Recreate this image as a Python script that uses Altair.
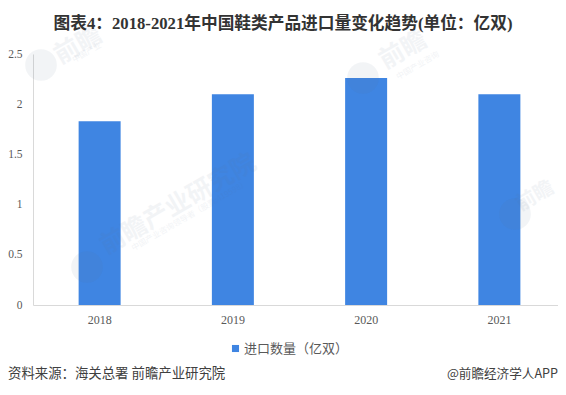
import altair as alt
import pandas as pd

years = ["2018", "2019", "2020", "2021"]
values = [1.83, 2.1, 2.26, 2.1]
series_name = "进口数量（亿双）"
title_text = "图表4：2018-2021年中国鞋类产品进口量变化趋势(单位：亿双)"
source_text = "资料来源：海关总署 前瞻产业研究院"
credit_text = "@前瞻经济学人APP"

wm_text = ["前瞻产业研究院", "前瞻", "前瞻", "前瞻"]
wm_x = [145, 45, 370, 502]
wm_y = [150, -9, -4, 142]
wm_size = [25, 25, 25, 20]
wm_sub = ["中国产业咨询领导者（股票:419598）", "中国产业", "中国产业咨询"]
wm_sub_x = [157, 54, 385]
wm_sub_y = [162, -1, 12]
logo_x = [54, 8, 330, 482]
logo_y = [213, 11, 24, 160]

SERIF = "Liberation Serif, Noto Sans CJK SC"
SANS = "Noto Sans CJK SC"
GREY = "#595959"

bars_df = pd.DataFrame({"year": years, "value": values, "series": series_name})
wm_df = pd.DataFrame({"t": wm_text, "px": wm_x, "py": wm_y, "s": wm_size})
sub_df = pd.DataFrame({"t": wm_sub, "px": wm_sub_x, "py": wm_sub_y})
logo_df = pd.DataFrame({"px": logo_x, "py": logo_y})
title_df = pd.DataFrame({"t": [title_text], "px": [250], "py": [-30]})
src_df = pd.DataFrame({"t": [source_text], "px": [-25], "py": [320]})
cred_df = pd.DataFrame({"t": [credit_text], "px": [525], "py": [320]})

bars = alt.Chart(bars_df).mark_bar(size=42).encode(
    x=alt.X("year:N", title=None, sort=years,
            scale=alt.Scale(paddingInner=0, paddingOuter=0, range=[0, 533]),
            axis=alt.Axis(labelAngle=0, labelFont=SERIF, labelFontSize=12, labelColor=GREY,
                          ticks=False, domainColor="#d9d9d9", grid=False, labelPadding=9)),
    y=alt.Y("value:Q", title=None, scale=alt.Scale(domain=[0, 2.5], nice=False),
            axis=alt.Axis(values=[0, 0.5, 1, 1.5, 2, 2.5], labelExpr="datum.value + ''",
                          labelFont=SERIF, labelFontSize=11.5, labelColor=GREY,
                          ticks=False, domainColor="#d9d9d9", grid=False, labelPadding=11)),
    color=alt.Color("series:N", scale=alt.Scale(range=["#3f85e2"]),
                    legend=alt.Legend(title=None, orient="none", legendX=196, legendY=288,
                                      symbolType="square", symbolSize=50, symbolStrokeWidth=0,
                                      labelFont=SANS, labelFontSize=13, labelColor=GREY,
                                      labelOffset=2)),
)

PX = alt.X("px:Q", scale=None)
PY = alt.Y("py:Q", scale=None)

logos = alt.Chart(logo_df).mark_point(filled=True, shape="circle", size=1000, color="#5a7090",
                                      opacity=0.08).encode(x=PX, y=PY)
wm = alt.Chart(wm_df).mark_text(font=SANS, fontWeight="bold", angle=330, align="center",
                                color="#5a7090", opacity=0.07).encode(
    x=PX, y=PY, text="t:N", size=alt.Size("s:Q", scale=None, legend=None))
sub = alt.Chart(sub_df).mark_text(font=SANS, fontSize=8, angle=330, align="center",
                                  color="#5a7090", opacity=0.08).encode(x=PX, y=PY, text="t:N")
title = alt.Chart(title_df).mark_text(font=SERIF, fontSize=16.7, fontWeight="bold",
                                      color="#333333", align="center").encode(x=PX, y=PY, text="t:N")
src = alt.Chart(src_df).mark_text(font=SANS, fontSize=13.4, color="#404040", align="left").encode(
    x=PX, y=PY, text="t:N")
cred = alt.Chart(cred_df).mark_text(font=SANS, fontSize=12.6, color="#404040", align="right").encode(
    x=PX, y=PY, text="t:N")

chart = alt.layer(bars, logos, wm, sub, title, src, cred).resolve_scale(
    x="independent", y="independent", size="independent"
).properties(
    width=525, height=251,
    padding={"left": 25, "top": 46, "right": 0, "bottom": 81},
    autosize=alt.AutoSizeParams(type="none"),
).configure_view(stroke=None)

chart.save("out.html", embed_options={"renderer": "svg", "actions": False})
